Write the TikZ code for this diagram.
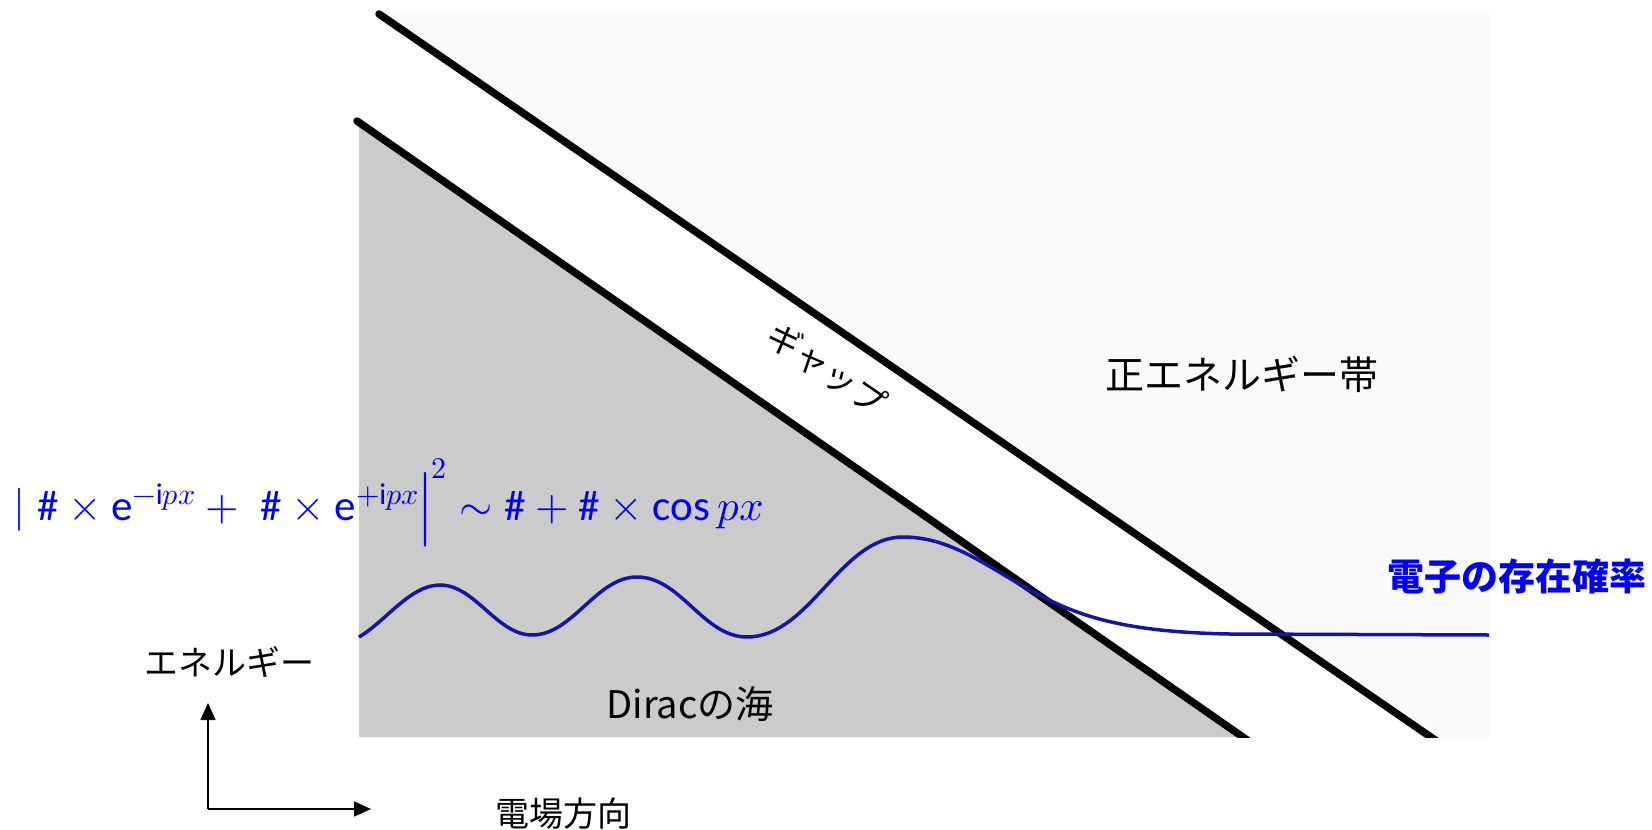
\documentclass[tikz,border=0pt]{standalone}
\usepackage{fontspec}
\usepackage{unicode-math}
\setmainfont{Carlito}
\setmathfont{Latin Modern Math}
\newfontfamily\jp{Noto Sans CJK JP}
\usetikzlibrary{arrows.meta}
\definecolor{seagray}{RGB}{203,203,203}
\definecolor{bandbg}{RGB}{250,250,250}
\definecolor{wavecol}{RGB}{20,20,170}
\definecolor{txtblue}{RGB}{0,0,255}
\newcommand{\hsh}{\textrm{\#}}
\tikzset{
  bandline/.style={line width=7.5pt, line cap=round, black},
  wavestyle/.style={line width=3.5pt, wavecol},
  jptext/.style={font=\jp\fontsize{#1}{#1}\selectfont, inner sep=0pt},
  axisarrow/.style={line width=1.4pt, -{Triangle[length=17pt,width=15pt]}},
  formula/.style={font=\fontsize{43}{47}\selectfont, text=txtblue, inner sep=0pt}
}
\begin{document}
\begin{tikzpicture}[x=1pt,y=-1pt]
\useasboundingbox (0,0) rectangle (1652,830);
\fill[white] (0,0) rectangle (1652,830);
% regions
\fill[bandbg] (379,12) -- (1489,12) -- (1489,737) -- (1431,737) -- cycle;
\fill[seagray] (359,122) -- (1243,737) -- (359,737) -- cycle;
% band edges
\coordinate (U1) at (379,14);
\coordinate (U2) at (1438,742);
\coordinate (L1) at (357,121);
\coordinate (L2) at (1250,742);
\begin{scope}
  \clip (0,0) rectangle (1652,737);
  \draw[bandline] (U1) -- (U2);
  \draw[bandline] (L1) -- (L2);
\end{scope}
% wave
\draw[wavestyle] (359,637) .. controls (385,622) and (410,585) .. (440,585)
  .. controls (475,585) and (497,635) .. (532,635)
  .. controls (573,635) and (596,577) .. (637,577)
  .. controls (681,577) and (703,637) .. (747,637)
  .. controls (810,637) and (840,537) .. (903,537)
  .. controls (950,537) and (985,565) .. (1030,590)
  .. controls (1075,615) and (1120,632) .. (1230,634)
  -- (1489,635);
% labels
\node[jptext=39] (pos) at (1242,374) {正エネルギー帯};
\node[jptext=37, text=txtblue] (prob) at (1517,576) {\bfseries 電子の存在確率};
\node[jptext=34] (en) at (229,662) {エネルギー};
\node[jptext=38] (sea) at (690,704) {Diracの海};
\node[jptext=34] (field) at (563,814) {電場方向};
\node[jptext=34, rotate=-34.6] (gap) at (827,369) {ギャップ};
\node[formula, anchor=west] (eq) at (13,503)
  {$|\;\hsh\times\mathrm{e}^{-\mathrm{i}px}+\;\hsh\times\mathrm{e}^{+\mathrm{i}px}\Big|^{2}\sim\hsh+\hsh\times\cos px$};
% axes
\coordinate (O) at (208,809);
\coordinate (Eup) at (208,703);
\coordinate (Fr) at (371,809);
\draw[axisarrow] (O) -- (Eup);
\draw[axisarrow] (O) -- (Fr);
\end{tikzpicture}
\end{document}
